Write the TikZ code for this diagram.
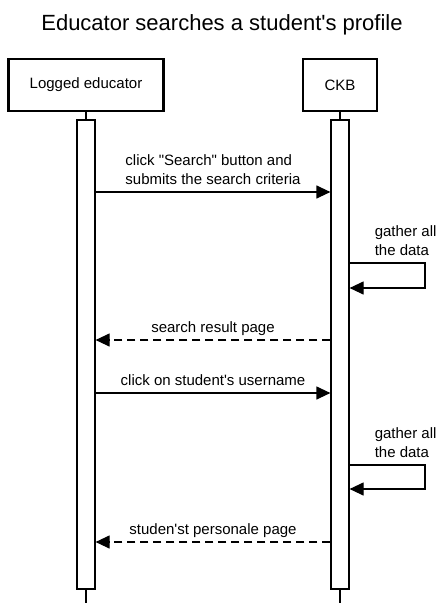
\documentclass[tikz,border=0pt]{standalone}
\usepackage{fontspec}
\setmainfont{Liberation Sans}
\usetikzlibrary{arrows.meta, positioning}

\begin{document}
\begin{tikzpicture}[
        x=1pt, y=-1pt,
        font=\fontsize{15}{19}\selectfont,
        actor/.style={draw=black, line width=2.5pt, minimum height=52pt, inner sep=0pt},
        lifeline/.style={draw=black, line width=1.2pt},
        bar/.style={draw=black, fill=white, line width=1.2pt, minimum width=18pt, minimum height=469pt, inner sep=0pt},
        msg/.style={-{Triangle[length=14pt, width=13pt]}, line width=1.2pt},
        reply/.style={msg, dash pattern=on 8pt off 5pt},
        lbl/.style={align=left, inner sep=0pt, text depth=4pt}
    ]
    \useasboundingbox (0,0) rectangle (445,608);

    % Title
    \node[font=\fontsize{22}{26}\selectfont, anchor=base] (title) at (222,30) {Educator searches a student\textquotesingle s profile};

    % ================= Actors =================
    \node[actor, minimum width=155pt] (edu) at (86,85) {Logged educator};
    \node[actor, minimum width=74pt] (ckb) at (340,85) {CKB};

    % Lifelines
    \coordinate (eduEnd) at (86,603);
    \coordinate (ckbEnd) at (340,603);
    \draw[lifeline] (edu.south) -- (eduEnd);
    \draw[lifeline] (ckb.south) -- (ckbEnd);

    % Activation bars
    \node[bar] (eduBar) at (86,354.5) {};
    \node[bar] (ckbBar) at (340,354.5) {};

    % ================= Messages =================
    \draw[msg] (eduBar.east |- 0,192) -- (ckbBar.west |- 0,192)
        node[lbl, midway, above=3pt] (search) {click \textquotedbl Search\textquotedbl{} button and\\submits the search criteria};

    % Self call 1
    \coordinate (gatherA) at (ckbBar.east |- 0,263);
    \coordinate (gatherB) at (425,288);
    \draw[msg] (gatherA) -| (gatherB) -- (ckbBar.east |- gatherB);
    \node[lbl, anchor=south west] (gatherTxtA) at ([xshift=25pt, yshift=3pt]gatherA) {gather all\\the data};

    \draw[reply] (ckbBar.west |- 0,340) -- (eduBar.east |- 0,340)
        node[lbl, midway, above=3pt] (result) {search result page};

    \draw[msg] (eduBar.east |- 0,393) -- (ckbBar.west |- 0,393)
        node[lbl, midway, above=3pt] (username) {click on student\textquotesingle s username};

    % Self call 2
    \coordinate (gatherC) at (ckbBar.east |- 0,465);
    \coordinate (gatherD) at (425,489);
    \draw[msg] (gatherC) -| (gatherD) -- (ckbBar.east |- gatherD);
    \node[lbl, anchor=south west] (gatherTxtB) at ([xshift=25pt, yshift=3pt]gatherC) {gather all\\the data};

    \draw[reply] (ckbBar.west |- 0,542) -- (eduBar.east |- 0,542)
        node[lbl, midway, above=3pt] (profile) {studen\textquotesingle st personale page};

\end{tikzpicture}
\end{document}
